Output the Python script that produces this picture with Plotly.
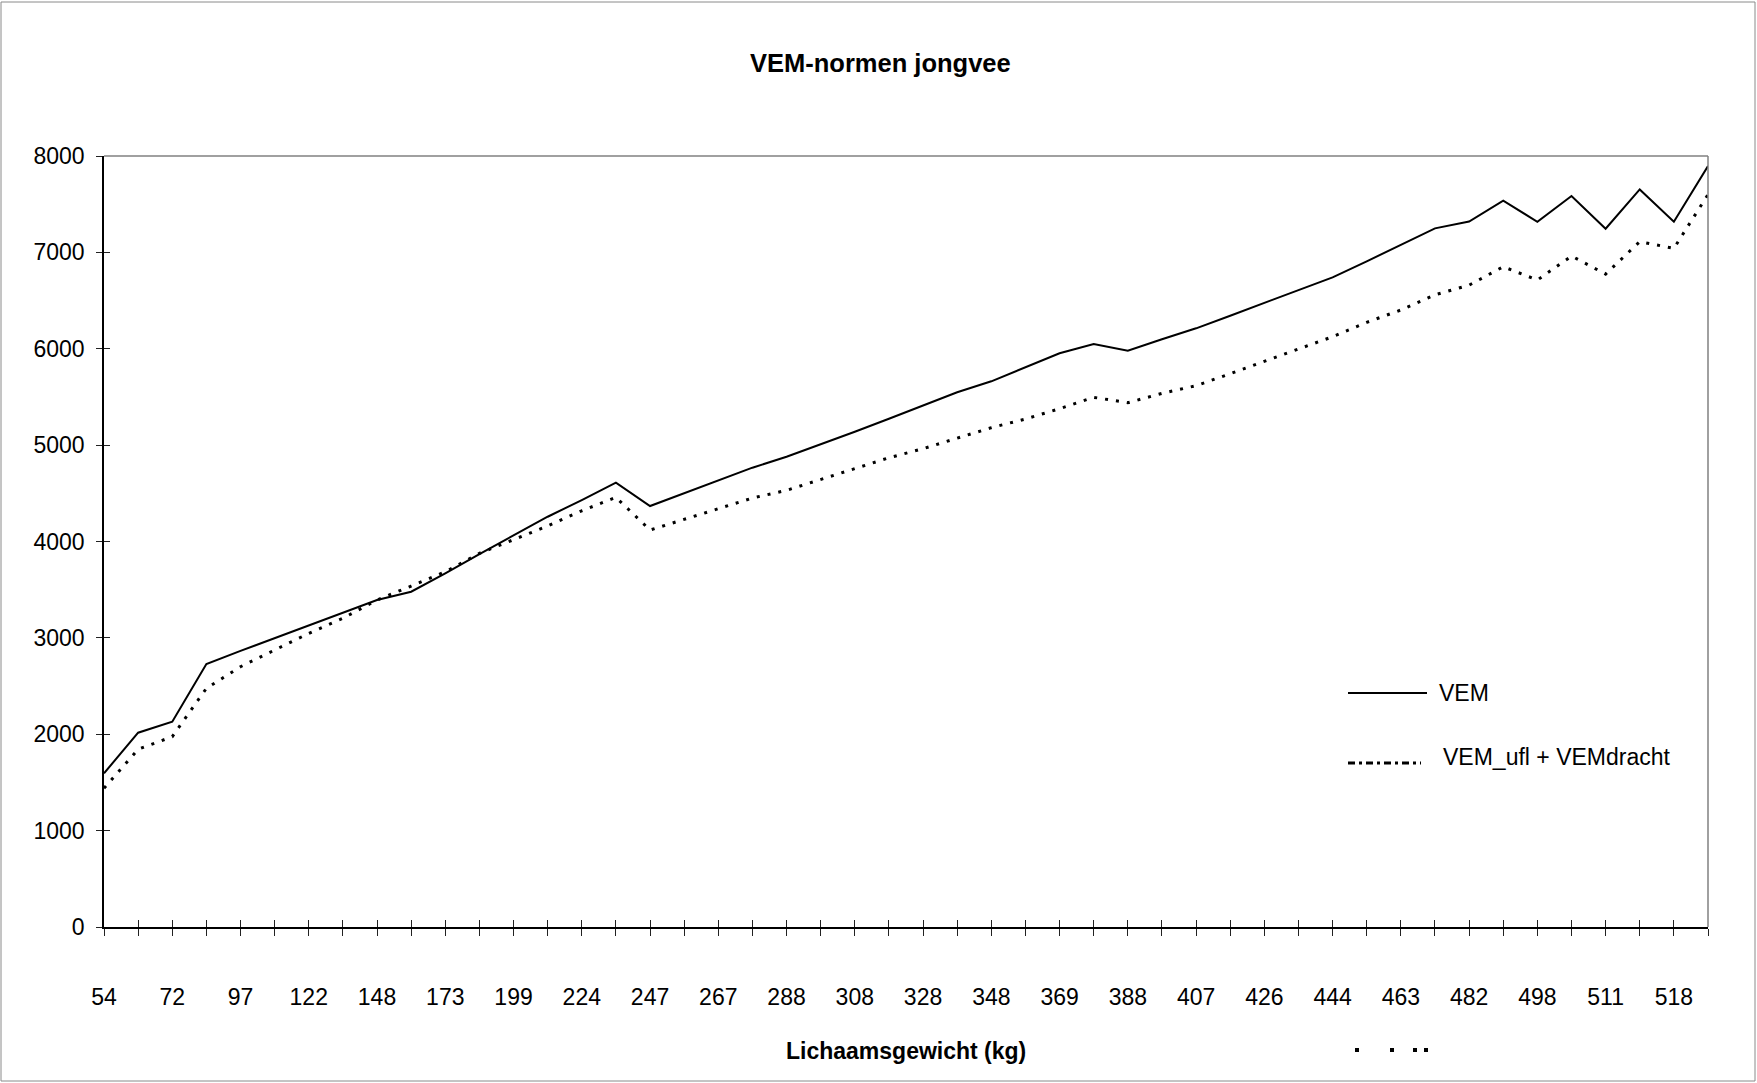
import plotly.graph_objects as go

# Body weight categories (kg); every second one is labelled on the axis
weights = [54, 63, 72, 85, 97, 110, 122, 135, 148, 160, 173, 186, 199, 211, 224, 236,
           247, 257, 267, 278, 288, 298, 308, 318, 328, 338, 348, 359, 369, 379, 388, 398,
           407, 417, 426, 435, 444, 454, 463, 473, 482, 490, 498, 505, 511, 515, 518, 525]

# VEM requirement
vem = [1595, 2016, 2130, 2729, 2865, 2995, 3126, 3261, 3393, 3479, 3670, 3870,
       4067, 4257, 4430, 4610, 4368, 4499, 4634, 4766, 4880, 5008, 5139, 5274,
       5413, 5548, 5662, 5804, 5953, 6049, 5980, 6098, 6212, 6343, 6474, 6606,
       6741, 6907, 7079, 7249, 7320, 7536, 7318, 7585, 7245, 7653, 7318, 7896]

# VEM_ufl + VEMdracht
vem_ufl_dracht = [1439, 1844, 1975, 2476, 2701, 2871, 3047, 3203, 3393, 3538, 3686, 3877,
                  4022, 4161, 4319, 4458, 4119, 4230, 4337, 4451, 4531, 4641, 4759, 4869,
                  4963, 5074, 5181, 5271, 5378, 5496, 5440, 5537, 5617, 5741, 5869, 6004,
                  6125, 6274, 6402, 6560, 6660, 6851, 6713, 6962, 6775, 7111, 7042, 7600]

y_ticks = [0, 1000, 2000, 3000, 4000, 5000, 6000, 7000, 8000]

cats = [str(w) for w in weights]
tick_text = [c if i % 2 == 0 else "" for i, c in enumerate(cats)]

FONT = "Liberation Sans, Arial, sans-serif"
W, H = 1757, 1083
L, R, T, B = 104, 1708, 156, 927


def px(x):
    return (x - L) / (R - L)


def py(y):
    return (B - y) / (B - T)


fig = go.Figure()
fig.add_trace(go.Scatter(x=cats, y=vem, mode="lines", name="VEM",
                         line=dict(color="black", width=2), showlegend=False))
fig.add_trace(go.Scatter(x=cats, y=vem_ufl_dracht, mode="lines", name="VEM_ufl + VEMdracht",
                         line=dict(color="black", width=3, dash="3px,8px"), showlegend=False))
# transparent copy on overlay axes, used only for the inward half of the tick marks
fig.add_trace(go.Scatter(x=cats, y=vem, mode="lines", xaxis="x2", yaxis="y2",
                         line=dict(width=0), opacity=0, showlegend=False, hoverinfo="skip"))

axis_font = dict(family=FONT, size=23, color="black")

fig.update_layout(
    width=W, height=H, autosize=False,
    margin=dict(l=L, r=W - R, t=T, b=H - B),
    paper_bgcolor="white", plot_bgcolor="white",
    font=dict(family=FONT, color="black"),
    showlegend=False,
    xaxis=dict(type="category", range=[0, len(cats) - 1], tickmode="array",
               tickvals=cats, ticktext=tick_text, ticks="outside", ticklen=7,
               tickcolor="#222", tickwidth=1, showline=True, linecolor="black",
               linewidth=1.5, showgrid=False, zeroline=False, tickfont=axis_font,
               ticklabelstandoff=42, tickangle=0),
    xaxis2=dict(type="category", overlaying="x", anchor="y2", range=[0, len(cats) - 1],
                tickmode="array", tickvals=cats, ticks="inside", ticklen=7,
                tickcolor="#222", tickwidth=1, showticklabels=False, showline=False,
                showgrid=False, zeroline=False),
    yaxis=dict(range=[0, 8000], tickmode="array", tickvals=y_ticks, ticks="outside",
               ticklen=6, tickcolor="#222", tickwidth=1, showline=True, linecolor="black",
               linewidth=1.5, showgrid=False, zeroline=False, tickfont=axis_font,
               ticklabelstandoff=7),
    yaxis2=dict(range=[0, 8000], overlaying="y", anchor="x2", side="left",
                tickmode="array", tickvals=y_ticks, ticks="inside", ticklen=6,
                tickcolor="#222", tickwidth=1, showticklabels=False, showline=False,
                showgrid=False, zeroline=False),
)

shapes = [
    # outer chart frame
    dict(type="rect", xref="paper", yref="paper", x0=px(1), x1=px(1755), y0=py(1081), y1=py(2),
         line=dict(color="#8a8a8a", width=1), layer="below"),
    # grey top and right edges of the plot area
    dict(type="line", xref="paper", yref="paper", x0=0, x1=1, y0=1, y1=1,
         line=dict(color="#808080", width=1.5)),
    dict(type="line", xref="paper", yref="paper", x0=1, x1=1, y0=0, y1=1,
         line=dict(color="#808080", width=1.5)),
    # legend keys
    dict(type="line", xref="paper", yref="paper", x0=px(1348), x1=px(1427), y0=py(693), y1=py(693),
         line=dict(color="black", width=2)),
    dict(type="line", xref="paper", yref="paper", x0=px(1348), x1=px(1421), y0=py(763), y1=py(763),
         line=dict(color="black", width=3, dash="7px,4px,3px,4px")),
]
# small stray dot marks below the legend
for dx in (1357, 1392, 1415, 1426):
    shapes.append(dict(type="rect", xref="paper", yref="paper",
                       x0=px(dx - 2), x1=px(dx + 2), y0=py(1052), y1=py(1048),
                       fillcolor="black", line=dict(width=0)))
fig.update_layout(shapes=shapes)

annotations = [
    dict(text="<b>VEM-normen jongvee</b>", x=px(880), y=py(63), xref="paper", yref="paper",
         showarrow=False, xanchor="center", yanchor="middle",
         font=dict(family=FONT, size=25.5, color="black")),
    dict(text="<b>Lichaamsgewicht (kg)</b>", x=px(906), y=py(1051), xref="paper", yref="paper",
         showarrow=False, xanchor="center", yanchor="middle",
         font=dict(family=FONT, size=23, color="black")),
    dict(text="VEM", x=px(1437), y=py(693), xref="paper", yref="paper",
         showarrow=False, xanchor="left", yanchor="middle",
         font=dict(family=FONT, size=23, color="black")),
    dict(text="VEM_ufl + VEMdracht", x=px(1441), y=py(757), xref="paper", yref="paper",
         showarrow=False, xanchor="left", yanchor="middle",
         font=dict(family=FONT, size=23, color="black")),
]
fig.update_layout(annotations=annotations)

fig.write_html("out.html")
